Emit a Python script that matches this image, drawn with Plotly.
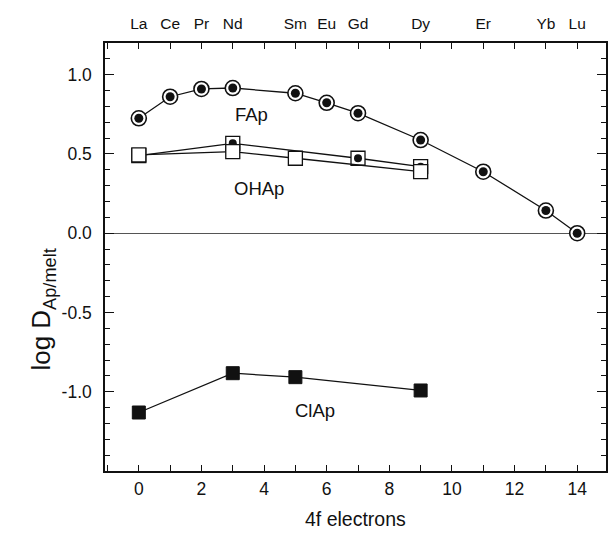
import plotly.graph_objects as go

# Data
top_ticks = [0, 1, 2, 3, 5, 6, 7, 9, 11, 13, 14]
top_labels = ["La", "Ce", "Pr", "Nd", "Sm", "Eu", "Gd", "Dy", "Er", "Yb", "Lu"]
bottom_ticks = [0, 2, 4, 6, 8, 10, 12, 14]

fap_x = [0, 1, 2, 3, 5, 6, 7, 9, 11, 13, 14]
fap_y = [0.725, 0.861, 0.91, 0.916, 0.883, 0.823, 0.757, 0.588, 0.388, 0.143, 0.0]

ohap_a_x = [0, 3, 7, 9]
ohap_a_y = [0.49, 0.567, 0.473, 0.42]

ohap_b_x = [0, 3, 5, 9]
ohap_b_y = [0.494, 0.515, 0.473, 0.388]

clap_x = [0, 3, 5, 9]
clap_y = [-1.131, -0.883, -0.908, -0.992]

labels = ["FAp", "OHAp", "ClAp"]
label_x = [3.59, 3.84, 5.62]
label_y = [0.746, 0.284, -1.12]

FONT = "Arial, Liberation Sans, sans-serif"
XR = [-1.08, 14.92]
YR = [-1.5, 1.2]

fig = go.Figure()

line = dict(color="#111", width=1.3)

# FAp
fig.add_trace(go.Scatter(x=fap_x, y=fap_y, mode="lines+markers", line=line,
                         marker=dict(symbol="circle", size=15, color="white",
                                     line=dict(color="#111", width=1.6)),
                         showlegend=False, hoverinfo="skip"))
fig.add_trace(go.Scatter(x=fap_x, y=fap_y, mode="markers",
                         marker=dict(symbol="circle", size=9, color="#111", line=dict(width=0)),
                         showlegend=False, hoverinfo="skip"))

# OHAp upper (square with dot)
fig.add_trace(go.Scatter(x=ohap_a_x, y=ohap_a_y, mode="lines+markers", line=line,
                         marker=dict(symbol="square", size=14, color="white",
                                     line=dict(color="#111", width=1.3)),
                         showlegend=False, hoverinfo="skip"))
fig.add_trace(go.Scatter(x=ohap_a_x, y=ohap_a_y, mode="markers",
                         marker=dict(symbol="circle", size=8, color="#111", line=dict(width=0)),
                         showlegend=False, hoverinfo="skip"))
# OHAp lower (open square)
fig.add_trace(go.Scatter(x=ohap_b_x, y=ohap_b_y, mode="lines+markers", line=line,
                         marker=dict(symbol="square", size=14, color="white",
                                     line=dict(color="#111", width=1.3)),
                         showlegend=False, hoverinfo="skip"))

# ClAp
fig.add_trace(go.Scatter(x=clap_x, y=clap_y, mode="lines+markers", line=line,
                         marker=dict(symbol="square", size=13, color="#111",
                                     line=dict(color="#111", width=1)),
                         showlegend=False, hoverinfo="skip"))

# top axis dummy trace
fig.add_trace(go.Scatter(x=[XR[0]], y=[0], xaxis="x2", mode="markers",
                         marker=dict(opacity=0), showlegend=False, hoverinfo="skip"))

for t, x, y in zip(labels, label_x, label_y):
    fig.add_annotation(x=x, y=y, text=t, showarrow=False,
                       font=dict(family=FONT, size=18.5, color="#111"))

fig.add_annotation(xref="paper", yref="paper", x=0.5, y=-0.112, yanchor="middle",
                   text="4f electrons", showarrow=False,
                   font=dict(family=FONT, size=19.5, color="#111"))
fig.add_annotation(xref="paper", yref="paper", x=-0.125, y=0.378, xanchor="center",
                   yanchor="middle", textangle=-90,
                   text="log D<sub>Ap/melt</sub>", showarrow=False,
                   font=dict(family=FONT, size=26, color="#111"))

tick_style = dict(ticks="inside", ticklen=6, tickwidth=1.2, tickcolor="#111")

fig.update_layout(
    width=608, height=537,
    margin=dict(l=105, r=0, t=43, b=66),
    plot_bgcolor="white", paper_bgcolor="white",
    font=dict(family=FONT, color="#111"),
    xaxis=dict(range=XR, tickmode="array", tickvals=bottom_ticks,
               ticktext=[str(v) for v in bottom_ticks],
               minor=dict(dtick=1, tick0=0, ticks="inside", ticklen=6, tickwidth=1.2,
                          tickcolor="#111", showgrid=False),
               showline=True, linecolor="#111", linewidth=1.5, mirror=True,
               showgrid=False, zeroline=False,
               tickfont=dict(size=17.5, family=FONT, color="#111"),
               ticklabelstandoff=1, **tick_style),
    xaxis2=dict(range=XR, overlaying="x", side="top", tickmode="array",
                tickvals=top_ticks, ticktext=top_labels,
                minor=dict(dtick=1, tick0=0, ticks="inside", ticklen=6, tickwidth=1.2,
                           tickcolor="#111", showgrid=False),
                showline=False, showgrid=False, zeroline=False,
                tickfont=dict(size=15.5, family=FONT, color="#111"),
                ticklabelstandoff=10, **tick_style),
    yaxis=dict(range=YR, tickmode="array", tickvals=[-1.0, -0.5, 0.0, 0.5, 1.0],
               ticktext=["-1.0", "-0.5", "0.0", "0.5", "1.0"],
               ticks="inside", ticklen=9, tickwidth=1.2, tickcolor="#111",
               minor=dict(dtick=0.1, ticks="inside", ticklen=5, tickwidth=1, tickcolor="#111",
                          showgrid=False),
               showline=True, linecolor="#111", linewidth=1.5, mirror="ticks",
               showgrid=False, zeroline=True, zerolinecolor="#555", zerolinewidth=1.2,
               tickfont=dict(size=17.5, family=FONT, color="#111"),
               ticklabelstandoff=8),
)

fig.write_html("out.html")
